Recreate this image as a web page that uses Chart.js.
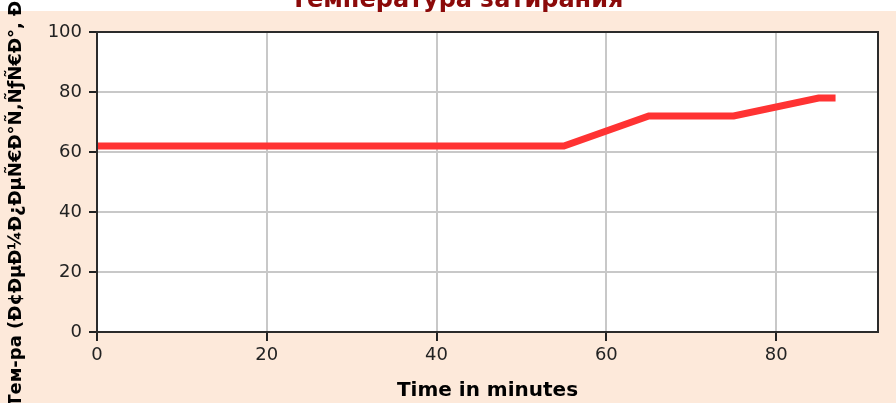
<!DOCTYPE html>
<html lang="ru">
<head>
<meta charset="utf-8" />
<title>Температура затирания</title>
<script src="https://cdn.jsdelivr.net/npm/chart.js@4.4.0/dist/chart.umd.min.js"></script>
<style>
  html, body { margin: 0; padding: 0; background: #fff; }
  #box { position: relative; width: 896px; height: 403px; }
</style>
</head>
<body>
<div id="box"><canvas id="mashChart"></canvas></div>
<script>
// minutes / temperature
const minutes = [0, 55, 65, 75, 85, 87];
const temps = [62, 62, 72, 72, 78, 78];
const xTicks = [0, 20, 40, 60, 80];
const yTicks = [0, 20, 40, 60, 80, 100];

const chartTitle = "Температура затирания";
const xTitle = "Time in minutes";
const yTitle = "Тем-ра (Ð¢ÐµÐ¼Ð¿ÐµÑ€Ð°Ñ‚ÑƒÑ€Ð°, Ð³Ñ€)";

const peach = "#fde9da";

// background, white plot area, plot frame and the (cut off) title
const frame = {
    id: "frame",
    beforeDraw(chart) {
        const c = chart.ctx, a = chart.chartArea;
        c.save();
        c.fillStyle = "#fff";
        c.fillRect(0, 0, chart.width, chart.height);
        c.fillStyle = peach;
        c.fillRect(0, 11, chart.width, chart.height - 11);
        c.fillStyle = "#fff";
        c.fillRect(a.left, a.top, a.right - a.left, a.bottom - a.top);
        c.restore();
    },
    afterDatasetsDraw(chart) {
        const c = chart.ctx, a = chart.chartArea;
        c.save();
        c.strokeStyle = "#2b2b2b";
        c.lineWidth = 2;
        c.strokeRect(a.left, a.top, a.right - a.left, a.bottom - a.top);
        c.restore();
    },
    afterDraw(chart) {
        const c = chart.ctx;
        c.save();
        c.fillStyle = "#8b0a0a";
        c.font = "bold 24px 'DejaVu Sans'";
        c.textAlign = "center";
        c.textBaseline = "alphabetic";
        c.fillText(chartTitle, 457, 7);
        c.restore();
    }
};

const gridColor = (ctx) => (ctx.tick && ctx.tick.value === 0) ? "rgba(0,0,0,0)" : "#c8c8c8";

let ctx = document.getElementById("mashChart");
let mashChart = new Chart(ctx, {
    type: "line",
    data: {
        datasets: [{
            label: "Temp",
            data: minutes.map((m, i) => ({ x: m, y: temps[i] })),
            borderColor: "#ff3333",
            borderWidth: 7,
            borderCapStyle: "butt",
            pointRadius: 0,
            tension: 0,
            clip: false
        }]
    },
    options: {
        responsive: true,
        maintainAspectRatio: false,
        animation: false,
        layout: { padding: { left: 0, right: 18, top: 32, bottom: 0 } },
        plugins: {
            legend: { display: false },
            tooltip: { enabled: false },
            title: { display: false }
        },
        scales: {
            x: {
                type: "linear",
                min: 0,
                max: 92,
                afterBuildTicks: (s) => { s.ticks = xTicks.map(v => ({ value: v })); },
                afterFit: (s) => { s.height = 71; },
                ticks: {
                    includeBounds: false,
                    color: "#222",
                    padding: 4,
                    maxRotation: 0,
                    font: { family: "DejaVu Sans", size: 18 }
                },
                grid: { color: gridColor, lineWidth: 2, tickColor: "#222", tickLength: 9 },
                border: { display: true, color: "#2b2b2b", width: 2 },
                title: {
                    display: true,
                    text: xTitle,
                    color: "#000",
                    font: { family: "DejaVu Sans", size: 20, weight: "bold" },
                    padding: { top: 0, bottom: 0 }
                }
            },
            y: {
                min: 0,
                max: 100,
                afterBuildTicks: (s) => { s.ticks = yTicks.map(v => ({ value: v })); },
                afterFit: (s) => { s.width = 97; },
                ticks: {
                    color: "#222",
                    padding: 7,
                    font: { family: "DejaVu Sans", size: 18 }
                },
                grid: { color: gridColor, lineWidth: 2, tickColor: "#222", tickLength: 8 },
                border: { display: true, color: "#2b2b2b", width: 2 },
                title: {
                    display: true,
                    text: yTitle,
                    color: "#000",
                    font: { family: "DejaVu Sans", size: 18, weight: "bold" },
                    padding: { top: 6, bottom: 0 }
                }
            }
        }
    },
    plugins: [frame]
});
</script>
</body>
</html>
